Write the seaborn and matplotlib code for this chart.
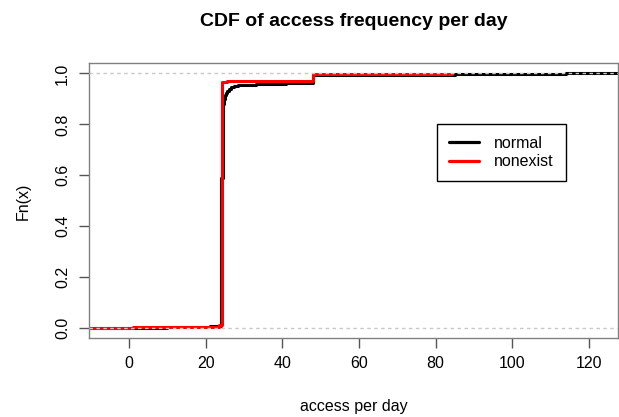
import pandas as pd
import seaborn as sns
import matplotlib.pyplot as plt
from matplotlib.lines import Line2D

# step points of the two empirical CDFs (x = access per day, F = Fn(x))
normal_x = [-10.5, 0, 10, 21, 24, 24.5, 24.7, 24.9, 25.2, 25.6, 26.1, 26.7, 27.5, 28.5, 30,
            33, 36, 41, 48, 60, 85, 114, 128]
normal_F = [0.0, 0.002, 0.005, 0.010, 0.59, 0.88, 0.90, 0.915, 0.925, 0.933, 0.94, 0.945,
            0.95, 0.953, 0.956, 0.958, 0.96, 0.964, 0.993, 0.995, 0.997, 1.0, 1.0]

nonexist_x = [-10.5, 1, 17, 23.4, 24.2, 25.5, 48, 72, 84.3]
nonexist_F = [0.0, 0.003, 0.006, 0.012, 0.965, 0.972, 0.997, 0.999, 0.999]

x_ticks = [0, 20, 40, 60, 80, 100, 120]
y_ticks = [0.0, 0.2, 0.4, 0.6, 0.8, 1.0]
y_tick_labels = ["0.0", "0.2", "0.4", "0.6", "0.8", "1.0"]

df = pd.concat([
    pd.DataFrame({"x": normal_x, "F": normal_F, "group": "normal"}),
    pd.DataFrame({"x": nonexist_x, "F": nonexist_F, "group": "nonexist"}),
])

sns.set_theme(style="white")
plt.rcParams["font.family"] = ["Liberation Sans", "DejaVu Sans"]
plt.rcParams["text.color"] = "black"
plt.rcParams["axes.labelcolor"] = "black"

fig = plt.figure(figsize=(6.19, 4.17), dpi=100)
ax = fig.add_axes([0.1443, 0.1887, 0.8546, 0.6595])

colors = {"normal": "black", "nonexist": "red"}
sns.lineplot(data=df, x="x", y="F", hue="group", hue_order=["normal", "nonexist"],
             palette=colors, estimator=None, sort=False, drawstyle="steps-post",
             linewidth=2.2, legend=False, ax=ax)

# dotted reference lines at 0 and 1 (drawn on top like R's plot.ecdf)
for h in [0, 1]:
    ax.axhline(h, color="#c8c8c8", linestyle=(0, (2.5, 2.5)), linewidth=1, zorder=5)

ax.set_xlim(-10.4, 127.7)
ax.set_ylim(-0.04, 1.04)
ax.set_xticks(x_ticks)
ax.set_yticks(y_ticks)
ax.set_yticklabels(y_tick_labels, rotation=90, va="center")
ax.tick_params(axis="both", which="both", direction="out", length=7, width=1,
               color="#555555", labelsize=11.5, labelcolor="black", bottom=True, left=True)
ax.tick_params(axis="x", pad=6)
ax.tick_params(axis="y", pad=7)
for s in ax.spines.values():
    s.set_color("#808080")
    s.set_linewidth(1)
ax.set_xlabel("")
ax.set_ylabel("")

fig.text(353.5 / 619, 1 - 22 / 417, "CDF of access frequency per day",
         ha="center", va="center", fontsize=14, fontweight="bold")
fig.text(353.5 / 619, 1 - 406 / 417, "access per day", ha="center", va="center", fontsize=11.5)
fig.text(23.5 / 619, 1 - 201 / 417, "Fn(x)", ha="center", va="center", rotation=90, fontsize=11.5)

handles = [Line2D([], [], color="black", linewidth=2.3),
           Line2D([], [], color="red", linewidth=2.3)]
leg = ax.legend(handles, ["normal", "nonexist"], loc="upper left",
                bbox_to_anchor=(0.657, 0.779), borderaxespad=0, fontsize=11.5,
                frameon=True, fancybox=False, framealpha=1, edgecolor="black",
                handlelength=1.9, handletextpad=0.95, borderpad=0.75, labelspacing=0.2)
leg.get_frame().set_linewidth(1)

fig.savefig("out.png", dpi=100)
